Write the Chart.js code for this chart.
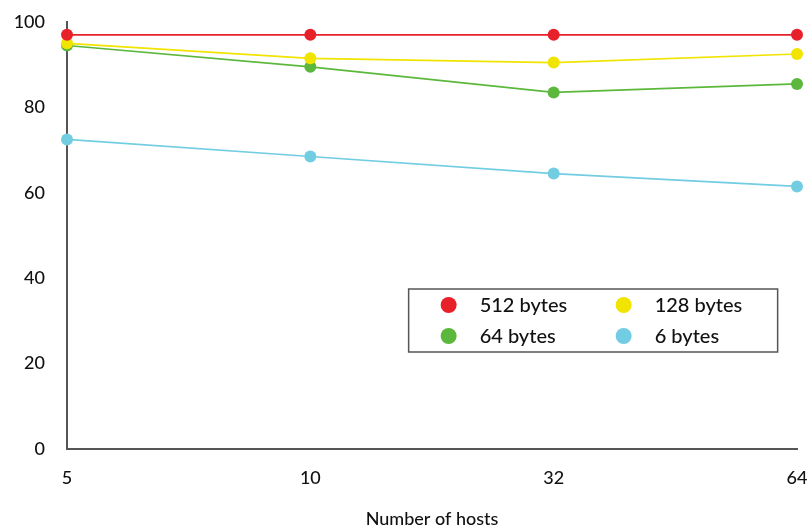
<!DOCTYPE html>
<html>
<head>
<meta charset="utf-8">
<script src="https://cdn.jsdelivr.net/npm/chart.js@4"></script>
<style>
    html, body { margin: 0; padding: 0; background: #fff; }
    #wrap { width: 807px; height: 525px; }
</style>
</head>
<body>
<div id="wrap"><canvas id="chart" width="807" height="525"></canvas></div>
<script>
// Данные графика
const hosts = ['5', '10', '32', '64'];
const bytes512 = [97, 97, 97, 97];
const bytes128 = [95, 91.5, 90.5, 92.5];
const bytes64 = [94.5, 89.5, 83.5, 85.5];
const bytes6 = [72.5, 68.5, 64.5, 61.5];
const yTicks = [0, 20, 40, 60, 80, 100];

const FONT = 'Lato, "Open Sans", sans-serif';

// Легенда в рамке внутри области графика
const boxLegend = {
    id: 'boxLegend',
    afterDatasetsDraw(chart) {
        const ctx = chart.ctx;
        const area = chart.chartArea;
        const x0 = area.left + (area.right - area.left) * 0.468;
        const y0 = 289, w = 369, h = 63;
        ctx.save();
        ctx.fillStyle = '#fff';
        ctx.fillRect(x0, y0, w, h);
        ctx.strokeStyle = '#555';
        ctx.lineWidth = 1.5;
        ctx.strokeRect(x0, y0, w, h);
        ctx.font = '500 20px ' + FONT;
        ctx.textBaseline = 'middle';
        chart.data.datasets.forEach((ds, i) => {
            const col = i % 2, row = Math.floor(i / 2);
            const mx = x0 + 40 + col * 175;
            const my = y0 + 16 + row * 31;
            ctx.beginPath();
            ctx.arc(mx, my, 8, 0, Math.PI * 2);
            ctx.fillStyle = ds.backgroundColor;
            ctx.fill();
            ctx.fillStyle = '#111';
            ctx.fillText(ds.label, mx + 31, my + 1);
        });
        ctx.restore();
    }
};

function series(label, data, color) {
    return {
        label: label,
        data: data,
        borderColor: color,
        backgroundColor: color,
        borderWidth: 1.7,
        pointRadius: 6,
        pointBorderWidth: 0,
        pointHoverRadius: 6,
        tension: 0,
        clip: false
    };
}

new Chart(document.getElementById('chart'), {
    type: 'line',
    data: {
        labels: hosts,
        datasets: [
            series('512 bytes', bytes512, '#e8202a'),
            series('128 bytes', bytes128, '#f0e400'),
            series('64 bytes', bytes64, '#5cb83c'),
            series('6 bytes', bytes6, '#72cde2')
        ]
    },
    options: {
        responsive: false,
        animation: false,
        layout: { padding: { top: 22, right: 10, left: 0, bottom: 0 } },
        plugins: { legend: { display: false }, tooltip: { enabled: false } },
        scales: {
            x: {
                offset: false,
                grid: { display: false, drawOnChartArea: false, drawTicks: true, tickLength: 4, tickColor: '#555' },
                border: { color: '#555', width: 2 },
                ticks: { color: '#111', font: { family: FONT, size: 18, weight: '500' }, padding: 14, maxRotation: 0 },
                title: { display: true, text: 'Number of hosts', color: '#111', font: { family: FONT, size: 18, weight: '500' }, padding: { top: 14, bottom: -5 } },
                afterFit(scale) {
                    scale.height = 76;
                    scale.paddingLeft = 0;
                    scale.paddingRight = 0;
                }
            },
            y: {
                min: 0,
                max: 100,
                afterBuildTicks(scale) { scale.ticks = yTicks.map(v => ({ value: v })); },
                grid: { display: false, drawTicks: false },
                border: { color: '#555', width: 2 },
                ticks: { color: '#111', font: { family: FONT, size: 18, weight: '500' }, padding: 22 },
                afterFit(scale) {
                    scale.width = 67;
                    scale.paddingTop = 0;
                    scale.paddingBottom = 0;
                }
            }
        }
    },
    plugins: [boxLegend]
});
</script>
</body>
</html>
